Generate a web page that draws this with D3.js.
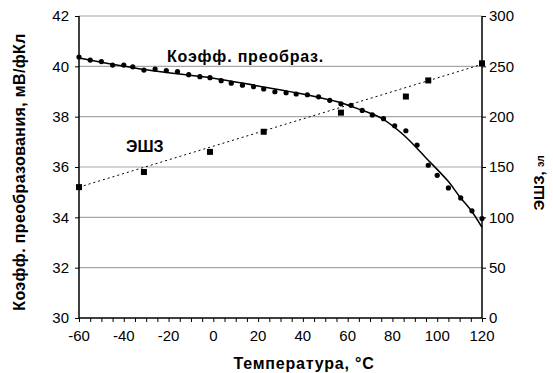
<!DOCTYPE html>
<html lang="ru">
<head>
    <meta charset="UTF-8">
    <title>Коэфф. преобразования и ЭШЗ</title>
    <script src="https://d3js.org/d3.v7.min.js"></script>
    <style>
        body { margin: 0; background: white; }
        text { font-family: "Liberation Sans", Arial, sans-serif; fill: #000; }
    </style>
</head>
<body>
    <svg id="svg1" width="553" height="373" style="background: white"></svg>

    <script>
        // data ---------------------------------------------------------------------
        // measured points, conversion coefficient (mV/fC)
        const temps = [-60, -55, -50, -45, -40, -36, -31, -26, -21, -16, -11, -6, -1.5, 3.5, 8, 13, 18, 22.5, 27.5,
                       32.5, 37, 42, 47, 52, 57, 61.5, 66.5, 71, 76, 81, 86, 91, 96, 100, 105, 110.5, 115.5, 120];
        const coef = [40.37, 40.25, 40.19, 40.05, 40.05, 39.98, 39.85, 39.89, 39.83, 39.79, 39.67, 39.59, 39.55,
                      39.43, 39.33, 39.25, 39.19, 39.10, 38.99, 38.95, 38.90, 38.87, 38.79, 38.65, 38.51, 38.45,
                      38.25, 38.07, 37.92, 37.64, 37.44, 36.87, 36.07, 35.67, 35.17, 34.77, 34.26, 33.95];

        // trend curve for the coefficient
        const coefTrendT = [-60, -30, 0, 20, 40, 55, 65, 75, 85, 95, 105, 110, 115, 120];
        const coefTrendV = [40.33, 39.86, 39.53, 39.22, 38.9, 38.6, 38.3, 37.94, 37.27, 36.36, 35.42, 34.82, 34.29, 33.6];

        // ENC points (electrons)
        const encT = [-60, -31, -1.5, 22.5, 57, 86, 96, 120];
        const encV = [130, 145, 165, 185, 204, 220, 236, 253];
        const encTrendT = [-60, 120];
        const encTrendV = [130, 252];

        const xTicks = [-60, -40, -20, 0, 20, 40, 60, 80, 100, 120];
        const yLeftTicks = [30, 32, 34, 36, 38, 40, 42];
        const yRightTicks = [0, 50, 100, 150, 200, 250, 300];

        // chart setup --------------------------------------------------------------
        const svg = d3.select("svg#svg1");
        const margin = {top: 16, right: 71, left: 79, bottom: 55};
        const chartWidth = 553 - margin.left - margin.right;
        const chartHeight = 373 - margin.top - margin.bottom;

        const chart = svg.append("g").attr("transform", `translate(${margin.left}, ${margin.top})`);

        const xScale = d3.scaleLinear().domain([-60, 120]).range([0, chartWidth]);
        const yLeft = d3.scaleLinear().domain([30, 42]).range([chartHeight, 0]);
        const yRight = d3.scaleLinear().domain([0, 300]).range([chartHeight, 0]);

        // grid lines
        chart.append("g").selectAll("line")
            .data(yLeftTicks.filter(d => d > 30))
            .join("line")
            .attr("x1", 0).attr("x2", chartWidth)
            .attr("y1", d => yLeft(d)).attr("y2", d => yLeft(d))
            .attr("stroke", "#a6a6a6").attr("stroke-width", 1.2);

        // axes
        const axisX = d3.axisBottom(xScale).tickValues(d3.range(-60, 121, 5)).tickSize(4).tickFormat("");
        const gx = chart.append("g").attr("transform", `translate(0, ${chartHeight})`).call(axisX);
        gx.select(".domain").attr("d", `M0,0H${chartWidth}`).attr("stroke-width", 1.5);

        chart.append("g").selectAll("text")
            .data(xTicks)
            .join("text")
            .attr("x", d => xScale(d))
            .attr("y", chartHeight + 23)
            .attr("text-anchor", "middle")
            .attr("font-size", 15)
            .text(d => d);

        const axisL = d3.axisLeft(yLeft).tickValues(yLeftTicks).tickSize(4).tickPadding(6);
        const gl = chart.append("g").call(axisL);

        const axisR = d3.axisRight(yRight).tickValues(yRightTicks).tickSize(4).tickPadding(3);
        const gr = chart.append("g").attr("transform", `translate(${chartWidth}, 0)`).call(axisR);

        [gl, gr].forEach(g => {
            g.selectAll("text").attr("font-size", 15).attr("font-family", "Liberation Sans, Arial, sans-serif");
            g.select(".domain").attr("d", `M0,${chartHeight}V0`).attr("stroke-width", 1.5);
        });

        // ENC trend (dotted) and squares
        const encLine = d3.line().x(d => xScale(d[0])).y(d => yRight(d[1]));
        chart.append("path")
            .attr("d", encLine(d3.zip(encTrendT, encTrendV)))
            .attr("fill", "none").attr("stroke", "#000")
            .attr("stroke-width", 1).attr("stroke-dasharray", "2,3");

        chart.append("g").selectAll("rect")
            .data(d3.zip(encT, encV))
            .join("rect")
            .attr("x", d => xScale(d[0]) - 3)
            .attr("y", d => yRight(d[1]) - 3)
            .attr("width", 6).attr("height", 6)
            .attr("fill", "#000");

        // coefficient trend (solid) and dots
        const coefLine = d3.line().curve(d3.curveCatmullRom)
            .x(d => xScale(d[0])).y(d => yLeft(d[1]));
        chart.append("path")
            .attr("d", coefLine(d3.zip(coefTrendT, coefTrendV)))
            .attr("fill", "none").attr("stroke", "#000").attr("stroke-width", 1.5);

        chart.append("g").selectAll("circle")
            .data(d3.zip(temps, coef))
            .join("circle")
            .attr("cx", d => xScale(d[0]))
            .attr("cy", d => yLeft(d[1]))
            .attr("r", 2.6)
            .attr("fill", "#000");

        // labels inside the plot
        svg.append("text")
            .text("Коэфф. преобраз.")
            .attr("x", 167).attr("y", 62)
            .attr("font-size", 16).attr("font-weight", "bold")
            .attr("letter-spacing", 0.8);

        svg.append("text")
            .text("ЭШЗ")
            .attr("x", 126).attr("y", 152)
            .attr("font-size", 16).attr("font-weight", "bold");

        // axis titles
        svg.append("text")
            .text("Температура, °С")
            .attr("x", 304).attr("y", 369)
            .attr("text-anchor", "middle")
            .attr("font-size", 16).attr("font-weight", "bold")
            .attr("letter-spacing", 0.8);

        svg.append("text")
            .text("Коэфф. преобразования, мВ/фКл")
            .attr("transform", "translate(25, 172) rotate(-90)")
            .attr("text-anchor", "middle")
            .attr("font-size", 16).attr("font-weight", "bold")
            .attr("letter-spacing", 0.35);

        const rTitle = svg.append("text")
            .attr("transform", "translate(544, 183) rotate(-90)")
            .attr("text-anchor", "middle")
            .attr("font-size", 15).attr("font-weight", "bold");
        rTitle.append("tspan").text("ЭШЗ, ");
        rTitle.append("tspan").text("эл").attr("font-size", 10);
    </script>
</body>
</html>
